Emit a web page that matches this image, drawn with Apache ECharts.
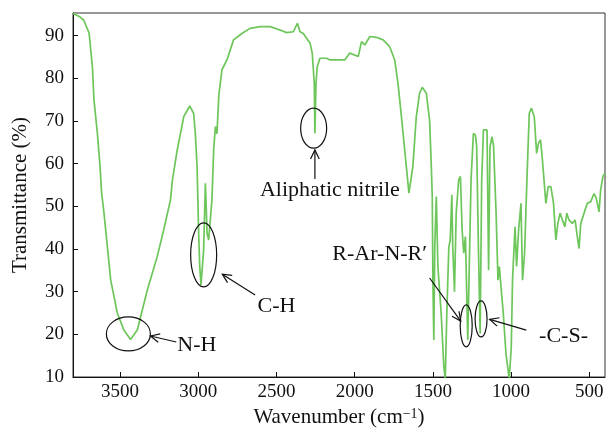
<!DOCTYPE html>
<html>
<head>
<meta charset="utf-8">
<script src="https://cdn.jsdelivr.net/npm/echarts@6/dist/echarts.min.js"></script>
<style>
  html, body { margin: 0; padding: 0; background: #fff; }
  #main { width: 607px; height: 437px; }
</style>
</head>
<body>
<div id="main"></div>
<script>
// IR spectrum (wavenumber in cm-1, transmittance in %)
const wavenumber = [3800, 3760, 3731, 3697, 3676, 3666, 3644, 3627, 3618, 3602, 3559, 3517, 3475, 3432, 3389, 3325, 3262, 3220, 3177, 3165, 3134, 3092, 3054, 3029, 3018, 3007, 2997, 2990, 2982, 2965, 2954, 2943, 2933, 2912, 2901, 2890, 2880, 2868, 2848, 2816, 2774, 2721, 2668, 2604, 2540, 2477, 2434, 2392, 2366, 2349, 2328, 2285, 2271, 2258, 2254, 2247, 2239, 2222, 2179, 2158, 2063, 2031, 1977, 1956, 1935, 1903, 1861, 1818, 1776, 1744, 1723, 1701, 1680, 1653, 1628, 1606, 1585, 1568, 1542, 1521, 1510, 1504, 1500, 1494, 1488, 1478, 1468, 1447, 1430, 1421, 1411, 1398, 1389, 1379, 1373, 1362, 1351, 1335, 1324, 1313, 1303, 1292, 1277, 1256, 1241, 1228, 1220, 1209, 1198, 1188, 1177, 1165, 1154, 1144, 1135, 1122, 1112, 1096, 1084, 1075, 1065, 1050, 1033, 1012, 999, 991, 975, 965, 952, 937, 927, 914, 899, 884, 870, 852, 837, 825, 812, 800, 778, 763, 746, 729, 714, 701, 687, 672, 657, 644, 630, 609, 591, 580, 566, 555, 534, 513, 491, 470, 456, 438, 428, 413, 400];
const transmittance = [95.2, 94.5, 93.6, 90.6, 82.7, 75, 67, 59.3, 53.5, 48.4, 32.7, 25, 21, 18.8, 21, 30.4, 38.2, 44.5, 51.5, 56, 63.2, 71, 73.5, 71.8, 67, 59.3, 43.7, 35.9, 31.6, 39.8, 55.4, 43.7, 42.1, 51.5, 63.2, 68.7, 67, 76, 82, 84.3, 89, 90.5, 91.7, 92.1, 92.1, 91.3, 90.7, 90.9, 92.9, 90.9, 90.5, 88.2, 85.9, 78.8, 67.1, 78.8, 82.7, 84.7, 84.7, 84.3, 84.3, 85.9, 85.1, 88.6, 87.8, 89.8, 89.6, 89, 87.4, 84.3, 78.8, 71, 63.2, 53.1, 59.3, 71, 76.5, 77.9, 76.5, 70.2, 59.3, 52.3, 32.7, 18.7, 40.5, 52.3, 35.9, 24.9, 12.4, 9.5, 24.9, 40.5, 42.1, 52.7, 40.5, 30, 48.4, 56.2, 57, 44.5, 39, 42.9, 18.7, 56.2, 67.1, 66.7, 64, 40.5, 20.2, 56.2, 67.9, 68.3, 67.9, 35, 64, 66.3, 64, 48.4, 32.7, 35.9, 31.2, 24.9, 15.5, 9.5, 17.1, 32.7, 45.2, 35.9, 44.5, 50.7, 32.7, 39, 56.2, 71.8, 73, 71, 62.4, 64.8, 65.6, 60.9, 50.7, 54.6, 54.6, 50.7, 42.1, 46, 48.4, 46.8, 45.2, 48.4, 46.8, 46, 46.8, 43.7, 40.1, 46, 48.4, 50.7, 51.1, 53, 51.9, 48.7, 53.8, 57, 57.8];

const xTicks = [3500, 3000, 2500, 2000, 1500, 1000, 500];
const yTicks = [10, 20, 30, 40, 50, 60, 70, 80, 90];

// band labels: ellipse centre, arrow tail -> head, text centre (data coords)
const bands = [
  { text: 'N-H', centre: [3446, 20.1], rx: 22, ry: 17, tail: [3140, 18.2], head: [3305, 19.6], at: [3008, 17.4] },
  { text: 'C-H', centre: [2965, 38.6], rx: 13, ry: 32, tail: [2636, 29.2], head: [2846, 34.1], at: [2500, 26.6] },
  { text: 'Aliphatic nitrile', centre: [2262, 68.3], rx: 13, ry: 20, tail: [2254, 56.4], head: [2254, 63.2], at: [2158, 53.8] },
  { text: 'R-Ar-N-R\u2032', centre: [1287, 22], rx: 6, ry: 21, tail: [1521, 33.2], head: [1322, 23.1], at: [1840, 38.8] },
  { text: '-C-S-', centre: [1192, 23.6], rx: 6, ry: 18, tail: [903, 21], head: [1137, 23.5], at: [665, 19.6] }
];

const FONT = 'Liberation Serif';
const chart = echarts.init(document.getElementById('main'));

chart.setOption({
  animation: false,
  backgroundColor: '#fff',
  grid: { left: 73, right: 2, top: 13, bottom: 60, show: true, borderColor: '#333', borderWidth: 1, outerBoundsMode: 'none' },
  xAxis: {
    type: 'value', min: 400, max: 3800, inverse: true,
    name: 'Wavenumber (cm{sup|\u22121})', nameLocation: 'middle', nameGap: 21,
    nameTextStyle: {
      fontFamily: FONT, fontSize: 21, color: '#111',
      rich: { sup: { fontFamily: FONT, fontSize: 14, color: '#111', verticalAlign: 'top', lineHeight: 12 } }
    },
    axisLine: { lineStyle: { color: '#111', width: 1 } },
    axisTick: { inside: true, length: 5, customValues: xTicks, lineStyle: { color: '#111' } },
    axisLabel: { customValues: xTicks, formatter: v => String(v), fontFamily: FONT, fontSize: 19, color: '#111', margin: 6 },
    splitLine: { show: false }
  },
  yAxis: {
    type: 'value', min: 10, max: 95.3,
    name: 'Transmittance (%)', nameLocation: 'middle', nameGap: 42, nameRotate: 90,
    nameTextStyle: { fontFamily: FONT, fontSize: 21, color: '#111' },
    axisLine: { show: true, lineStyle: { color: '#111', width: 1 } },
    axisTick: { show: true, inside: true, length: 5, customValues: yTicks, lineStyle: { color: '#111' } },
    axisLabel: { customValues: yTicks, formatter: v => String(v), fontFamily: FONT, fontSize: 19, color: '#111', margin: 9 },
    splitLine: { show: false }
  },
  series: [{
    type: 'line',
    data: wavenumber.map((w, i) => [w, transmittance[i]]),
    showSymbol: false,
    clip: true,
    lineStyle: { color: '#6cc65a', width: 1.7 }
  }]
});

// annotations drawn in pixels converted from data coordinates
const px = p => chart.convertToPixel({ gridIndex: 0 }, p);
const ink = { stroke: '#111', lineWidth: 1.2, fill: null };
const graphic = [];
bands.forEach(b => {
  const c = px(b.centre), t = px(b.tail), h = px(b.head), a = px(b.at);
  graphic.push({ type: 'ellipse', shape: { cx: c[0], cy: c[1], rx: b.rx, ry: b.ry }, style: ink, z: 10 });
  graphic.push({ type: 'line', shape: { x1: t[0], y1: t[1], x2: h[0], y2: h[1] }, style: ink, z: 10 });
  const ang = Math.atan2(h[1] - t[1], h[0] - t[0]), len = 10, spread = 0.45;
  graphic.push({
    type: 'polyline', z: 10, style: ink,
    shape: { points: [
      [h[0] - len * Math.cos(ang - spread), h[1] - len * Math.sin(ang - spread)],
      h,
      [h[0] - len * Math.cos(ang + spread), h[1] - len * Math.sin(ang + spread)]
    ] }
  });
  graphic.push({
    type: 'text', x: a[0], y: a[1], z: 10,
    style: { text: b.text, fontFamily: FONT, fontSize: 22, fill: '#111', align: 'center', verticalAlign: 'middle' }
  });
});
chart.setOption({ graphic: graphic });
</script>
</body>
</html>
